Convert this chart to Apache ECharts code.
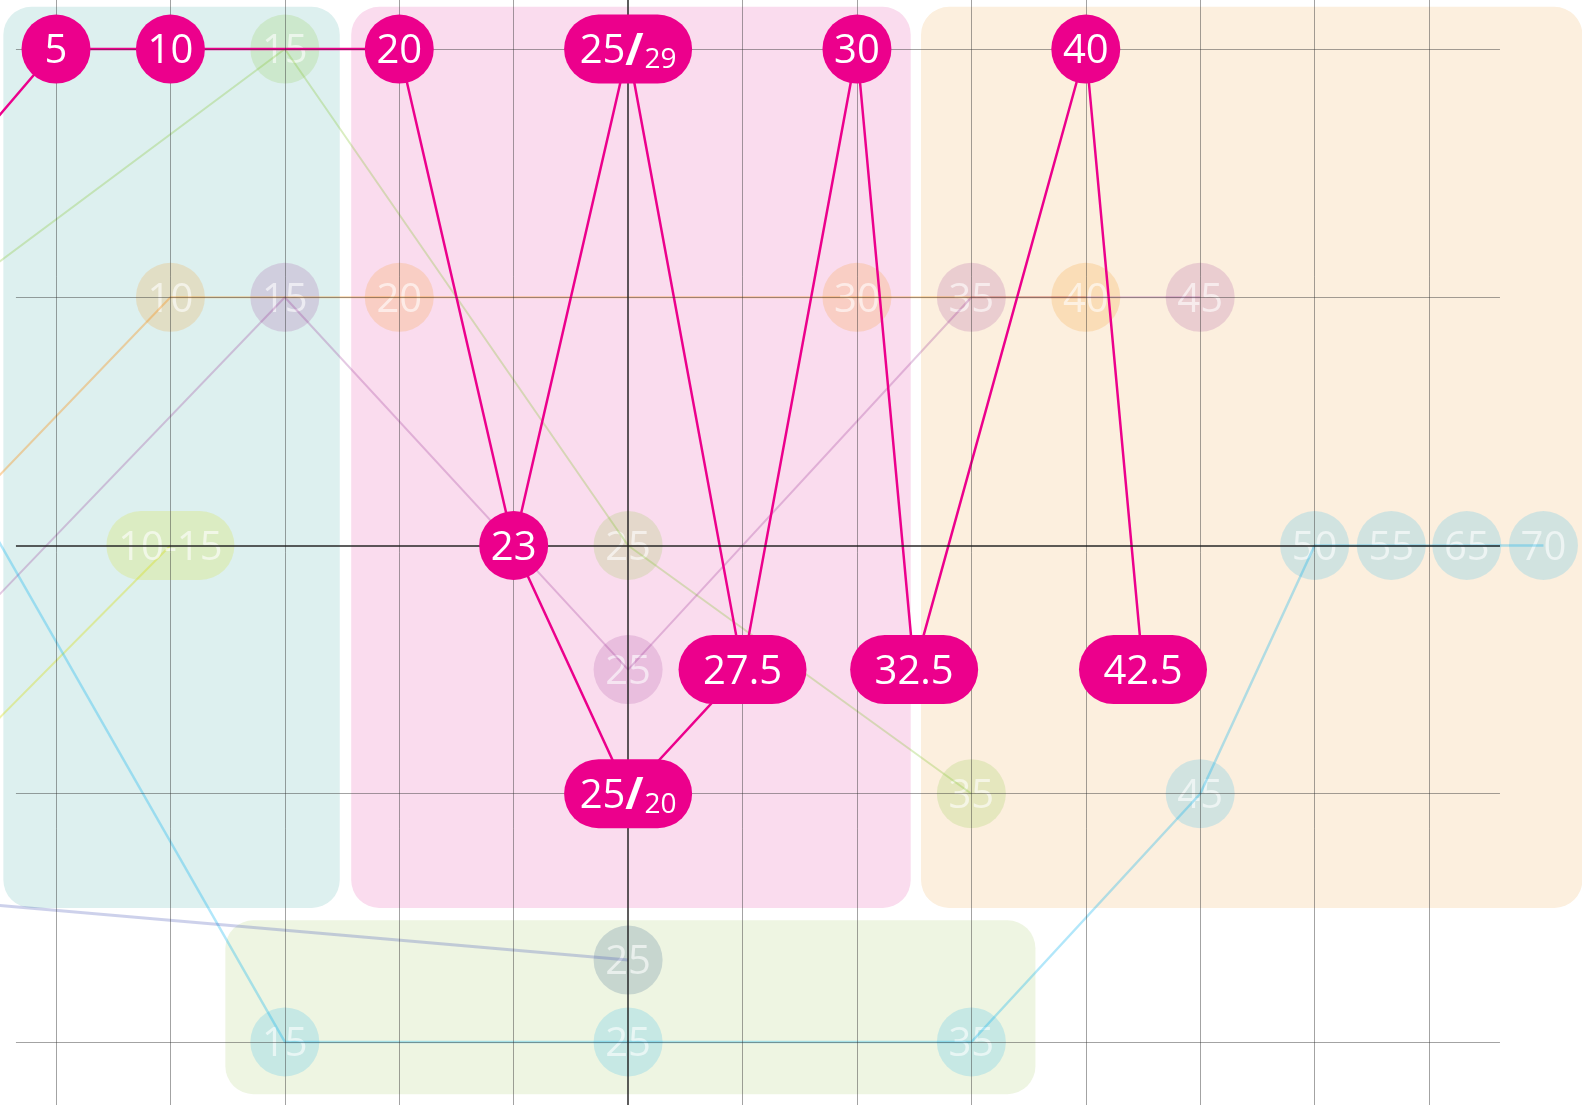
<!DOCTYPE html>
<html>
<head>
<meta charset="utf-8">
<script src="https://cdn.jsdelivr.net/npm/echarts@6/dist/echarts.min.js"></script>
<style>
  html, body { margin: 0; padding: 0; background: #fff; }
  #chart { width: 1582px; height: 1111px; }
</style>
</head>
<body>
<div id="chart"></div>
<script>
// grid columns / rows (axis units)
const colTicks = [0, 1, 2, 3, 4, 5, 6, 7, 8, 9, 10, 11, 12];
const rowTicks = [0, 1, 2, 3, 4];
const centerCol = 5;
const centerRow = 2;
const rowSpan = [-0.35, 12.62]; // horizontal rules run between these columns

// background zones: [x0, x1, y0, y1]
const zoneTeal = [-0.46, 2.48, -0.17, 3.46];
const zonePink = [2.58, 7.47, -0.17, 3.46];
const zoneOrange = [7.56, 13.34, -0.17, 3.46];
const zoneGreen = [1.48, 8.56, 3.51, 4.21];

// main magenta line: stops [label, col, row] and route
const magentaStops = [
  ['5', 0, 0], ['10', 1, 0], ['20', 3, 0], ['25/29', 5, 0], ['30', 7, 0], ['40', 9, 0],
  ['23', 4, 2], ['27.5', 6, 2.5], ['32.5', 7.5, 2.5], ['42.5', 9.5, 2.5], ['25/20', 5, 3]
];
const magentaPath = [[-1, 0.54], [0, 0], [1, 0], [3, 0], [4, 2], [5, 0], [6, 2.5], [7, 0], [7.5, 2.5], [9, 0], [9.5, 2.5]];
const magentaBranch = [[4, 2], [5, 3], [6, 2.5]];

// faded lines
const greenStops = [['15', 2, 0], ['25', 5, 2], ['35', 8, 3]];
const greenPath = [[-1, 1.03], [2, 0], [5, 2], [8, 3]];
const orangeStops = [['10', 1, 1], ['20', 3, 1], ['30', 7, 1], ['40', 9, 1]];
const orangePath = [[-1, 1.96], [1, 1], [9, 1]];
const purpleStops = [['15', 2, 1], ['25', 5, 2.5], ['35', 8, 1], ['45', 10, 1]];
const purplePath = [[-1, 2.44], [2, 1], [5, 2.5], [8, 1], [10, 1]];
const yellowStops = [['10-15', 1, 2]];
const yellowPath = [[-1, 2.93], [1, 2]];
const cyanStops = [['15', 2, 4], ['25', 5, 4], ['35', 8, 4], ['45', 10, 3], ['50', 11, 2], ['55', 11.67, 2], ['65', 12.33, 2], ['70', 13, 2]];
const cyanPath = [[-1, 1.58], [2, 4], [5, 4], [8, 4], [10, 3], [11, 2], [11.67, 2], [12.33, 2], [13, 2]];
const blueStops = [['25', 5, 3.67]];
const bluePath = [[-1, 3.43], [5, 3.67]];

const MAGENTA = '#ec008c';
const pillPath = 'path://M0,34.5A34.5,34.5 0 0 1 34.5,0H93.5A34.5,34.5 0 0 1 93.5,69H34.5A34.5,34.5 0 0 1 0,34.5Z';
const FONT = "'Open Sans', sans-serif";

function rgba(hex, a) {
  const n = parseInt(hex.slice(1), 16);
  return 'rgba(' + (n >> 16) + ',' + ((n >> 8) & 255) + ',' + (n & 255) + ',' + a + ')';
}

function fmt(name) {
  if (name.indexOf('/') > 0) {
    const p = name.split('/');
    return '{a|' + p[0] + '}{s|/}{b|' + p[1] + '}';
  }
  return '{a|' + name + '}';
}

function lineSeries(path, color, width, z) {
  return {
    type: 'line', data: path, symbol: 'none', showSymbol: false, clip: false,
    silent: true, z: z, animation: false,
    lineStyle: { color: color, width: width, opacity: 1 }
  };
}

function stopSeries(stops, fill, textColor, z) {
  return {
    type: 'scatter', z: z, silent: true, animation: false, clip: false,
    data: stops.map(function (s) {
      const pill = s[0].length > 2;
      return {
        name: s[0], value: [s[1], s[2]],
        symbol: pill ? pillPath : 'circle',
        symbolSize: pill ? [128, 69] : 69
      };
    }),
    itemStyle: { color: fill, opacity: 1 },
    label: {
      show: true, position: 'inside', offset: [0, 3],
      formatter: function (p) { return fmt(p.name); },
      rich: {
        a: { color: textColor, fontFamily: FONT, fontSize: 40, lineHeight: 44 },
        s: { color: textColor, fontFamily: FONT, fontSize: 44, fontWeight: 'bold', lineHeight: 44, padding: [0, 1, 0, 0] },
        b: { color: textColor, fontFamily: FONT, fontSize: 28, lineHeight: 34, verticalAlign: 'bottom' }
      }
    }
  };
}

const zones = [zoneTeal, zonePink, zoneOrange, zoneGreen];
const zoneColors = ['#ddf0ef', '#fadcee', '#fcefde', '#eef5e2'];

const gridLight = { color: 'rgba(50,50,50,0.45)', width: 1, type: 'solid' };
const gridDark = { color: 'rgba(30,30,30,0.72)', width: 2, type: 'solid' };

const FADE_TEXT = 'rgba(255,255,255,0.6)';

const option = {
  animation: false,
  backgroundColor: '#ffffff',
  grid: { left: 0, right: 0, top: 0, bottom: 6 },
  xAxis: {
    type: 'value', min: -0.4894, max: 13.3368, show: false,
    splitLine: { show: false }
  },
  yAxis: {
    type: 'value', min: -0.1974, max: 4.2538, inverse: true, show: false,
    splitLine: { show: false }
  },
  series: [
    {
      type: 'custom', z: 0, silent: true, clip: false,
      data: zones,
      renderItem: function (params, api) {
        const p0 = api.coord([api.value(0), api.value(2)]);
        const p1 = api.coord([api.value(1), api.value(3)]);
        return {
          type: 'rect',
          shape: { x: p0[0], y: p0[1], width: p1[0] - p0[0], height: p1[1] - p0[1], r: 28 },
          style: { fill: zoneColors[params.dataIndex] }
        };
      }
    },
    // faded lines and stops
    stopSeries(greenStops, rgba('#8dc63f', 0.2), FADE_TEXT, 1),
    stopSeries(orangeStops, rgba('#f7941d', 0.2), FADE_TEXT, 1),
    stopSeries(purpleStops, rgba('#92278f', 0.17), FADE_TEXT, 1),
    stopSeries(yellowStops, rgba('#d7df23', 0.22), FADE_TEXT, 4),
    stopSeries(cyanStops, rgba('#00aeef', 0.17), FADE_TEXT, 1),
    stopSeries(blueStops, rgba('#2e5a86', 0.2), FADE_TEXT, 1),
    lineSeries(greenPath, rgba('#8dc63f', 0.32), 2, 2),
    lineSeries(orangePath, rgba('#f7941d', 0.38), 2, 2),
    lineSeries(purplePath, rgba('#92278f', 0.25), 2, 2),
    lineSeries(yellowPath, rgba('#d7df23', 0.4), 2, 2),
    lineSeries(cyanPath, rgba('#00aeef', 0.3), 2.5, 2),
    lineSeries(bluePath, rgba('#4a58b8', 0.28), 3, 2),
    // grid lines
    {
      type: 'line', data: [], z: 3, silent: true,
      markLine: {
        silent: true, animation: false, symbol: ['none', 'none'],
        label: { show: false },
        emphasis: { disabled: true },
        data: colTicks.map(function (c) {
          return { xAxis: c, lineStyle: c === centerCol ? gridDark : gridLight };
        }).concat(rowTicks.map(function (r) {
          return [
            { coord: [rowSpan[0], r], lineStyle: r === centerRow ? gridDark : gridLight },
            { coord: [rowSpan[1], r] }
          ];
        }))
      }
    },
    // main magenta line
    lineSeries(magentaPath, MAGENTA, 2.5, 4),
    lineSeries(magentaBranch, MAGENTA, 2.5, 4),
    stopSeries(magentaStops, MAGENTA, '#ffffff', 5)
  ]
};

const chart = echarts.init(document.getElementById('chart'), null, { renderer: 'canvas' });
chart.setOption(option);
</script>
</body>
</html>
